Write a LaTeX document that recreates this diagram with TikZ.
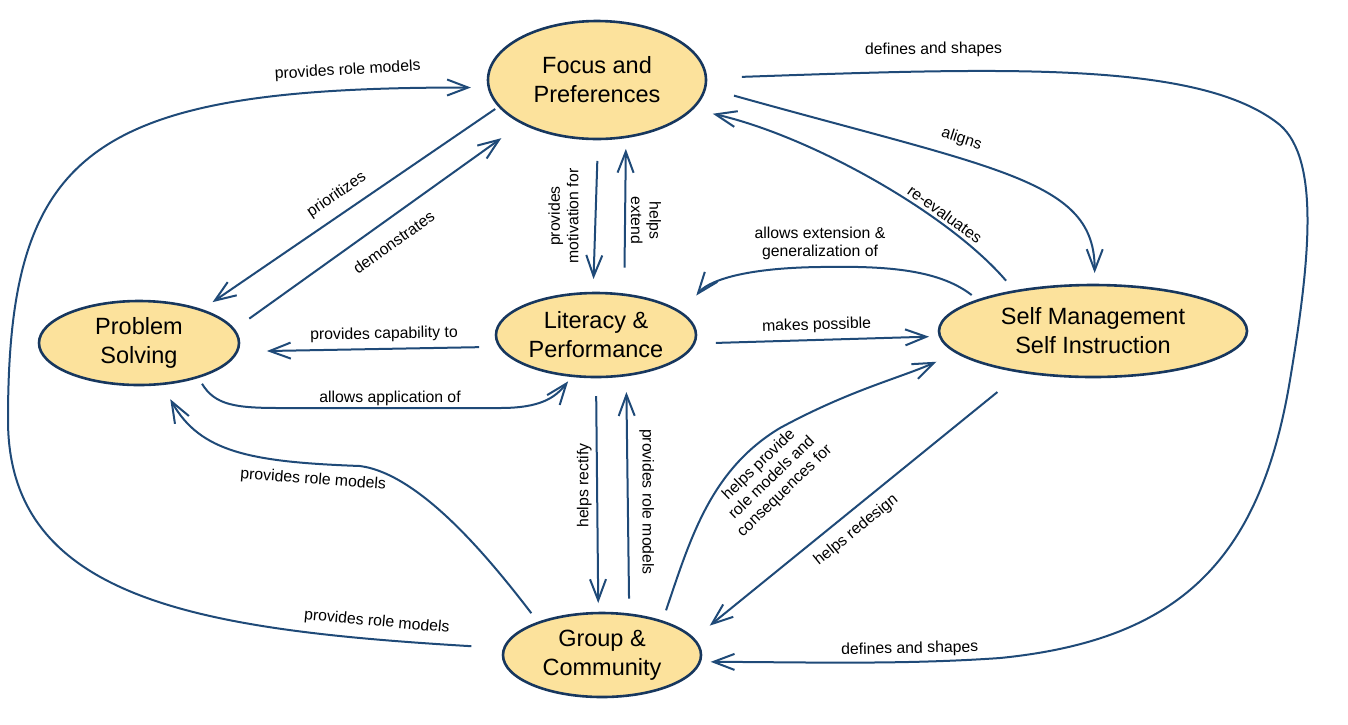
\documentclass[tikz,border=0pt]{standalone}
\usepackage{fontspec}
\setmainfont{Liberation Sans}
\usetikzlibrary{arrows.meta,shapes.geometric}

\definecolor{conceptfill}{HTML}{FCE29C}
\definecolor{conceptline}{HTML}{17375E}
\definecolor{linkline}{HTML}{1F4A78}

\begin{document}
\begin{tikzpicture}[>={Straight Barb[length=21pt,width=16pt]},x=1pt,y=-1pt,
    concept/.style={ellipse,draw=conceptline,line width=2.6pt,fill=conceptfill,inner sep=0pt,outer sep=0pt,align=center,font=\fontsize{23.5}{29}\selectfont},
    lbl/.style={font=\fontsize{15.8}{18.5}\selectfont,inner sep=2pt,align=center},
    every edge/.style={draw=linkline,line width=2pt},
    relation/.style={draw=linkline,line width=2pt,->}]
    \useasboundingbox (0,0) rectangle (1348,724);

    \node[concept,minimum width=218pt,minimum height=118pt] (foc) at (597,80) {Focus and\\Preferences};
    \node[concept,minimum width=200pt,minimum height=84pt] (ps) at (139,343) {Problem\\Solving};
    \node[concept,minimum width=200pt,minimum height=84pt] (lit) at (596,335) {Literacy \&\\Performance};
    \node[concept,minimum width=308pt,minimum height=92pt] (sm) at (1093,331) {Self Management\\Self Instruction};
    \node[concept,minimum width=198pt,minimum height=84pt] (grp) at (602,655) {Group \&\\Community};

    \path[->]
    (foc.195) edge[shorten <=5pt,shorten >=14pt] node[lbl,sloped,pos=.51,above=8pt] {prioritizes} (ps.28)
    (ps.8) edge[shorten <=19pt,shorten >=26pt] node[lbl,sloped,pos=.51,below=13pt] {demonstrates} (foc.210.4)

    (foc.271) edge[shorten <=22pt,shorten >=14pt] node[lbl,rotate=90,pos=.5,above=14pt] {provides\\motivation for} (lit.94)
    (lit.55) edge[shorten <=27pt,shorten >=12pt] node[lbl,rotate=-90,pos=.47,above=3pt] {helps\\extend} (foc.297.5)

    (lit.187) edge[shorten <=21pt,shorten >=30pt] node[lbl,sloped,pos=.44,above=4pt] {provides capability to} (ps.355)
    (lit.355) edge[shorten <=22pt,shorten >=11pt] node[lbl,sloped,pos=.5,above=4pt] {makes possible} (sm.182)

    (lit.270) edge[shorten <=19pt,shorten >=10pt] node[lbl,rotate=90,pos=.46,above=2.5pt] {helps rectify} (grp.95)
    (grp.56) edge[shorten <=16pt,shorten >=17pt] node[lbl,rotate=-90,pos=.47,above=8.5pt] {provides role models} (lit.307)

    (sm.210.5) edge[shorten <=32pt,shorten >=21pt] node[lbl,sloped,pos=.54,below=8pt] {helps redesign} (grp.10.5)
    ;

    \draw[relation,shorten <=8pt,shorten >=7pt] (ps.330) .. controls (215,405) and (235,408) .. (280,408)
        -- node[lbl,above=-1pt] {allows application of} (500,408) .. controls (540,408) and (555,398) .. (lit.240);

    \draw[relation,shorten <=12pt,shorten >=17.5pt] (grp.153.4) .. controls (489,558) and (420,474) .. (360,466)
        .. controls (250,462) and (200,452) .. node[lbl,sloped,pos=.15,below=6pt] {provides role models} (ps.299);

    \draw[relation,shorten <=33pt,shorten >=18pt] (grp.176) .. controls (200,630) and (8,600) ..
        node[lbl,sloped,pos=.15,above=6.5pt] {provides role models} (8,420)
        .. controls (8,150) and (90,87) .. node[lbl,sloped,pos=.87,above=10pt] {provides role models} (foc.184);

    \draw[relation,shorten <=36pt,shorten >=11pt] (foc.1) .. controls (1000,68) and (1200,60) ..
        node[lbl,sloped,pos=.285,above=11.5pt] {defines and shapes} (1280,125)
        .. controls (1320,160) and (1310,260) .. (1290,380)
        .. controls (1260,560) and (1180,640) .. (1000,658)
        .. controls (900,665) and (800,662) .. node[lbl,sloped,pos=.3,above=2.5pt] {defines and shapes} (grp.356);

    \draw[relation,shorten <=12pt,shorten >=22.5pt] (grp.29) .. controls (690,540) and (710,470) .. (780,428)
        .. controls (850,390) and (900,378) .. (sm.189)
        node[lbl,rotate=44] at (772,478) {helps provide\\role models and\\consequences for};

    \draw[relation,shorten <=8.5pt,shorten >=23pt] (sm.165.6) .. controls (937,268) and (880,266) .. (820,267)
        node[lbl,above=4pt] {allows extension \&\\generalization of}
        .. controls (740,268) and (707,282) .. (lit.14.2);

    \draw[relation,shorten <=14pt,shorten >=21.4pt] (sm.153.3) .. controls (949,214) and (811,136) ..
        node[lbl,sloped,pos=.3,above=2pt] {re-evaluates} (foc.343.9);

    \draw[relation,shorten <=30pt,shorten >=12pt] (foc.356) .. controls (1000,170) and (1095,180) ..
        node[lbl,sloped,pos=.37,above=9pt] {aligns} (sm.88);
\end{tikzpicture}
\end{document}
